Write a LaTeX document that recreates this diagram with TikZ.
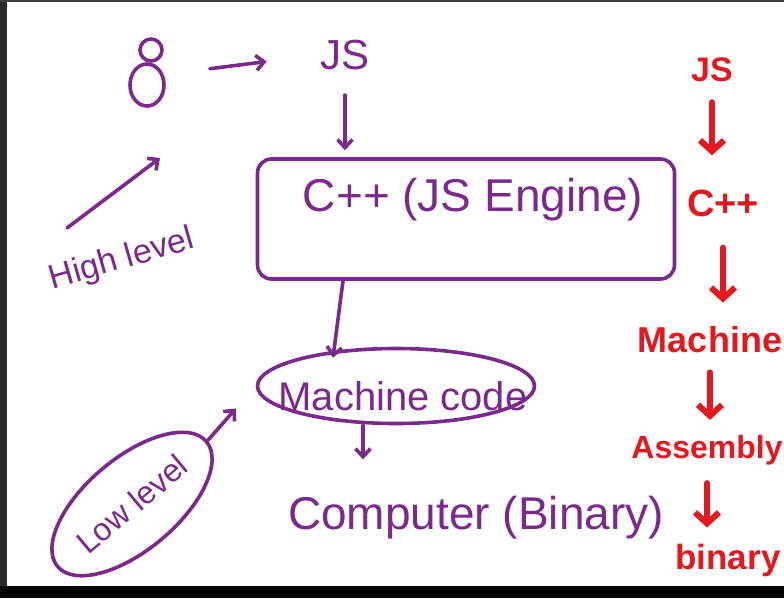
\documentclass[tikz,border=0pt]{standalone}
\usepackage{fontspec}
\setmainfont{Liberation Sans}
\usetikzlibrary{arrows.meta}
\usetikzlibrary{shapes.geometric}
\definecolor{pen}{HTML}{7B2A8C}
\definecolor{marker}{HTML}{E3191F}
\tikzset{
  ink/.style={draw=pen,line width=3.6pt,line cap=round,line join=round},
  inkarrow/.style={ink,-{Straight Barb[length=8pt,width=15pt]}},
  penword/.style={text=pen,inner sep=2pt,font=\fontsize{#1}{#1}\selectfont},
  penword/.default=40,
  redword/.style={text=marker,inner sep=2pt,font=\bfseries\fontsize{#1}{#1}\selectfont},
  redword/.default=34,
  redarrow/.style={draw=marker,line width=6pt,line cap=round,-{Straight Barb[length=11pt,width=24pt]}},
}

\begin{document}
\begin{tikzpicture}[x=1pt,y=-1pt]
	\useasboundingbox (0,0) rectangle (784,598);
	\fill[white] (0,0) rectangle (784,598);
	\fill[black!83] (0,0) rectangle (7,598);
	\fill[black!75] (0,0) rectangle (784,2);
	\fill[black] (0,586) rectangle (784,598);

	% user
	\draw[ink] (151,50) circle[radius=11];
	\draw[ink] (147,85) ellipse[x radius=17,y radius=21];
	\node[minimum width=40,minimum height=70] (user) at (148,74) {};

	\node[penword=42] (js) at (345,55) {JS};
	\node[ink,rounded corners=14,minimum width=417,minimum height=120] (engine) at (466,219) {};
	\node[penword=46] (enginetext) at (473,200) {C++ (JS Engine)};
	\node[ink,ellipse,minimum width=277,minimum height=75] (mcode) at (396,386) {};
	\node[penword=40] (mcodetext) at (403,396) {Machine code};
	\node[penword=46] (computer) at (476,518) {Computer (Binary)};
	\node[penword=34,rotate=16] (high) at (122,260) {High level};
	\node[ink,ellipse,rotate=40,minimum width=185,minimum height=92,penword=32] (low) at (132,504) {Low level};

	\draw[inkarrow,shorten <=42pt,shorten >=52pt] (user.east) -- (js.west);
	\draw[inkarrow,shorten <=23pt,shorten >=7pt] (js.south) -- (js.south |- engine.north);
	\draw[inkarrow] ([xshift=-123pt]engine.south) -- ([xshift=-63pt,yshift=-11pt]mcode.north);
	\draw[inkarrow] ([xshift=-33pt]mcode.south) -- ++(0,34);
	\coordinate (hl-a) at (67,228);
	\coordinate (hl-b) at (160,158);
	\draw[inkarrow] (hl-a) -- (hl-b);
	\draw[inkarrow,shorten >=30pt] (low.east) -- (mcode.west);

	% red column
	\node[redword=34] (rjs) at (712,70) {JS};
	\node[redword=38] (rcpp) at (723,203) {C++};
	\node[redword=36] (rmach) at (710,340) {Machine};
	\node[redword=32] (rasm) at (707,450) {Assembly};
	\node[redword=35] (rbin) at (728,560) {binary};

	\draw[redarrow,shorten <=18pt,shorten >=32pt] (rjs.south) -- (rjs.south |- rcpp.north);
	\draw[redarrow,shorten <=29pt,shorten >=22pt] (rcpp.south) -- (rcpp.south |- rmach.north);
	\draw[redarrow,shorten <=17pt,shorten >=13pt] (rmach.south) -- (rmach.south |- rasm.north);
	\draw[redarrow,shorten <=16pt,shorten >=14pt] (rasm.south) -- (rasm.south |- rbin.north);
\end{tikzpicture}
\end{document}
